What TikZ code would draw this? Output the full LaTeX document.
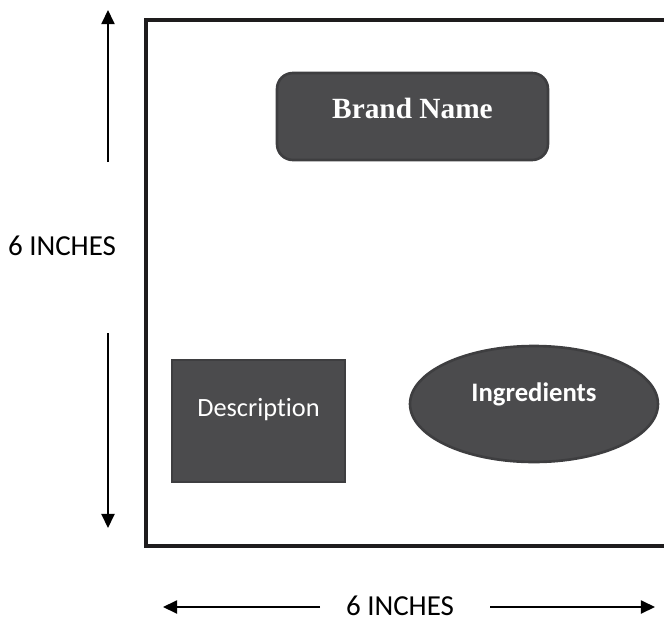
\documentclass[tikz,border=0pt]{standalone}
\usepackage{fontspec}
\setmainfont{Carlito}[Ligatures=NoCommon]
\newfontfamily\brandfont{Liberation Serif}
\usepackage{tikz}
\usetikzlibrary{calc,positioning,shapes,arrows.meta}
\definecolor{boxgray}{HTML}{4B4B4D}
\definecolor{boxedge}{HTML}{3E3E40}
\definecolor{framecol}{HTML}{1E1C1D}

\begin{document}
\begin{tikzpicture}[x=0.02cm, y=-0.02cm]
\tikzstyle{panel}=[fill = boxgray, draw = boxedge, line width = 1.5pt, text = white]
\tikzstyle{dim}=[line width = 0.8pt, -{Triangle[length=8pt, width=7.5pt]}]
\tikzstyle{dimlbl}=[inner sep = 0pt, font = \fontsize{16.5}{18}\selectfont]

\useasboundingbox (0,0) rectangle (664,623);

% outer frame, right side runs off the page
\draw[framecol, line width = 2.3pt] (670,20) -- (146,20) -- (146,546) -- (670,546);

\node[panel, rounded corners = 9pt, minimum width = 5.42cm, minimum height = 1.74cm,
      text depth = 9.6pt, font = \brandfont\bfseries\fontsize{16.7}{18}\selectfont] (brand) at (412.5,116.5) {Brand Name};
\node[panel, minimum width = 3.46cm, minimum height = 2.44cm, text depth = 16pt,
      font = \fontsize{15}{17}\selectfont] (desc) at (258.5,421) {Description};
\node[panel, ellipse, minimum width = 4.96cm, minimum height = 2.32cm, text depth = 14pt,
      font = \bfseries\fontsize{15.2}{17}\selectfont] (ingr) at (534,404) {Ingredients};

% height
\node[dimlbl] (hlbl) at (62,246) {6 INCHES};
\coordinate (h1) at (108,162);
\coordinate (h2) at (108,10);
\coordinate (h3) at (108,333);
\coordinate (h4) at (108,528);
\draw[dim] (h1) -- (h2);
\draw[dim] (h3) -- (h4);

% width
\node[dimlbl] (wlbl) at (400,606) {6 INCHES};
\coordinate (w1) at (320,607);
\coordinate (w2) at (163,607);
\coordinate (w3) at (490,607);
\coordinate (w4) at (655,607);
\draw[dim] (w1) -- (w2);
\draw[dim] (w3) -- (w4);
\end{tikzpicture}
\end{document}
